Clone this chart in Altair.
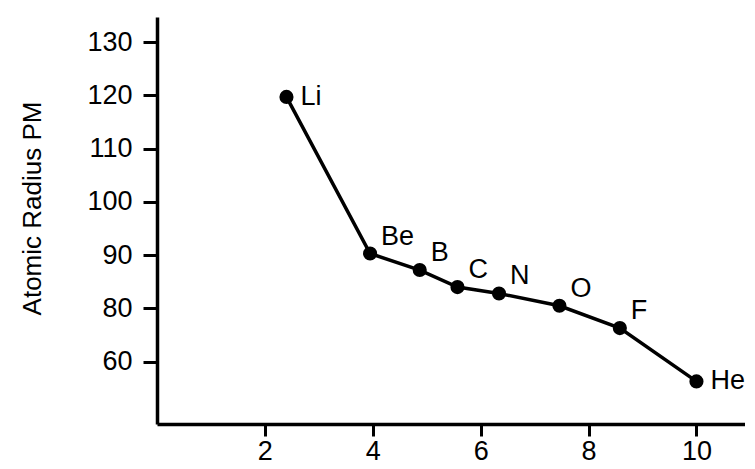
import altair as alt
import pandas as pd

elements = ["Li", "Be", "B", "C", "N", "O", "F", "He"]
x_vals = [2.40, 3.95, 4.87, 5.57, 6.34, 7.46, 8.58, 10.0]
radius = [119.7, 90.3, 87.2, 84.0, 82.8, 80.5, 76.3, 66.3]

x_ticks = [2, 4, 6, 8, 10]
y_ticks = [70, 80, 90, 100, 110, 120, 130]
y_tick_labels = ["60", "80", "90", "100", "110", "120", "130"]

df = pd.DataFrame({"x": x_vals, "r": radius, "el": elements})

label_map = "{" + ",".join(f"'{v}':'{l}'" for v, l in zip(y_ticks, y_tick_labels)) + "}"

FONT = "Liberation Sans"

xenc = alt.X(
    "x:Q",
    scale=alt.Scale(domain=[0, 10.9], nice=False, zero=False),
    axis=alt.Axis(values=x_ticks, title=None, grid=False, tickSize=12,
                  tickWidth=3, domainWidth=3.5, labelPadding=2,
                  labelFontSize=27, labelFont=FONT, labelColor="black",
                  domainColor="black", tickColor="black", labelFlush=False),
)
yenc = alt.Y(
    "r:Q",
    scale=alt.Scale(domain=[58.3, 134.7], nice=False, zero=False),
    axis=alt.Axis(values=y_ticks, title="Atomic Radius PM", grid=False,
                  tickSize=14, tickWidth=3, domainWidth=3.5, labelPadding=11,
                  labelFontSize=27, labelFont=FONT, labelColor="black",
                  labelExpr=label_map + "[datum.label]",
                  domainColor="black", tickColor="black",
                  titleFontSize=26, titleFont=FONT, titleFontWeight="normal",
                  titleColor="black", titleX=-112, titleY=191, labelFlush=False),
)

base = alt.Chart(df)

line = base.mark_line(color="black", strokeWidth=3.5).encode(x=xenc, y=yenc, order="x:Q")
pts = base.mark_circle(color="black", opacity=1, size=200).encode(x=xenc, y=yenc)

side = base.transform_filter(
    alt.FieldOneOfPredicate(field="el", oneOf=["Li", "He"])
).mark_text(align="left", baseline="middle", dx=14, fontSize=27, font=FONT, color="black").encode(
    x=xenc, y=yenc, text="el:N")

above = base.transform_filter(
    {"not": alt.FieldOneOfPredicate(field="el", oneOf=["Li", "He"])}
).mark_text(align="left", baseline="alphabetic", dx=11, dy=-9, fontSize=27, font=FONT, color="black").encode(
    x=xenc, y=yenc, text="el:N")

chart = alt.layer(line, pts, side, above).properties(
    width=588, height=407,
    autosize=alt.AutoSizeParams(type="none"),
    padding={"left": 149, "top": 9, "right": 0, "bottom": 45},
    background="white",
).configure_view(stroke=None)

chart.save("out.html", embed_options={"renderer": "svg", "actions": False})
